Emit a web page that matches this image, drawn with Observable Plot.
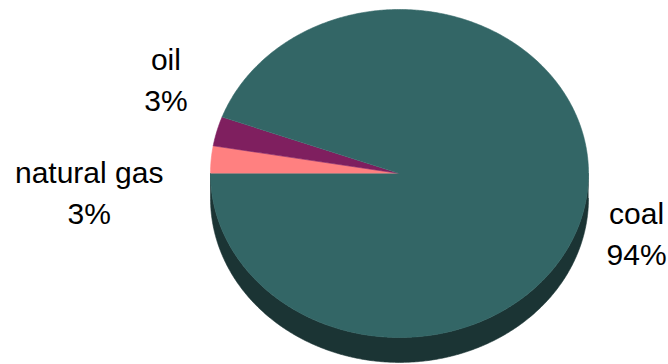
<!DOCTYPE html>
<html>
<head>
<meta charset="utf-8">
<script src="https://cdn.jsdelivr.net/npm/d3@7"></script>
<script src="https://cdn.jsdelivr.net/npm/@observablehq/plot@0.6"></script>
<style>
  html, body { margin: 0; padding: 0; background: #fff; }
  #chart svg { display: block; }
</style>
</head>
<body>
<div id="chart"></div>
<script>
// Data
const categories = ["natural gas", "oil", "coal"];
const values = [2.7, 2.9, 94.4];
const percentLabels = ["3%", "3%", "94%"];
const topColors = ["#ff8080", "#7f1f5f", "#336666"];
const sideColors = ["#7f4040", "#3f0f2f", "#1b3434"];

// Geometry (style)
const depth = 0.152;              // side thickness in y units
const step = Math.PI / 360;       // sampling step
const labelOffsets = {            // pixel nudges from the slice's rim midpoint
  "natural gas": [-122, 31],
  "oil": [-51, -54],
  "coal": [51, 29]
};

const arcs = d3.pie().sort(null)
  .startAngle(3 * Math.PI / 2)
  .endAngle(3 * Math.PI / 2 + 2 * Math.PI)(values);

function sample(a0, a1) {
  const pts = [];
  const n = Math.max(2, Math.ceil((a1 - a0) / step));
  for (let i = 0; i <= n; i++) {
    const a = a0 + (a1 - a0) * i / n;
    pts.push([Math.sin(a), Math.cos(a)]);
  }
  return pts;
}

const topPts = [];
const sidePts = [];
arcs.forEach((arc, i) => {
  const id = categories[i];
  topPts.push({id, x: 0, y: 0, color: topColors[i]});
  for (const [x, y] of sample(arc.startAngle, arc.endAngle)) topPts.push({id, x, y, color: topColors[i]});
  // front side (cos a <= 0): a in [pi/2, 3pi/2] + 2pi k
  for (let k = -1; k <= 2; k++) {
    const lo = Math.max(arc.startAngle, Math.PI / 2 + 2 * Math.PI * k);
    const hi = Math.min(arc.endAngle, 3 * Math.PI / 2 + 2 * Math.PI * k);
    if (hi > lo) {
      const sid = id + "-" + k;
      const rim = sample(lo, hi);
      for (const [x, y] of rim) sidePts.push({id: sid, x, y, color: sideColors[i]});
      for (const [x, y] of rim.slice().reverse()) sidePts.push({id: sid, x, y: y - depth, color: sideColors[i]});
    }
  }
});

const labelData = arcs.map((arc, i) => {
  const m = (arc.startAngle + arc.endAngle) / 2;
  return {name: categories[i], x: Math.sin(m), y: Math.cos(m), text: categories[i] + "\n" + percentLabels[i]};
});

const textMarks = labelData.map(d => Plot.text([d], {
  x: "x", y: "y", text: "text",
  dx: labelOffsets[d.name][0], dy: labelOffsets[d.name][1],
  fontSize: 30, lineHeight: 1.36, lineAnchor: "middle", textAnchor: "middle",
  fill: "#000", fontFamily: "Arial, 'Liberation Sans', sans-serif"
}));

const chart = Plot.plot({
  width: 668,
  height: 364,
  margin: 0,
  x: {domain: [-1, 1], range: [210, 588], axis: null},
  y: {domain: [-1, 1], range: [337, 9], axis: null},
  color: {type: "identity"},
  style: {background: "#fff"},
  marks: [
    Plot.line(sidePts, {x: "x", y: "y", z: "id", fill: "color", stroke: "color", strokeWidth: 0.6, curve: "linear"}),
    Plot.line(topPts, {x: "x", y: "y", z: "id", fill: "color", stroke: "color", strokeWidth: 0.6, curve: "linear"}),
    ...textMarks
  ]
});
document.getElementById("chart").appendChild(chart);
</script>
</body>
</html>
